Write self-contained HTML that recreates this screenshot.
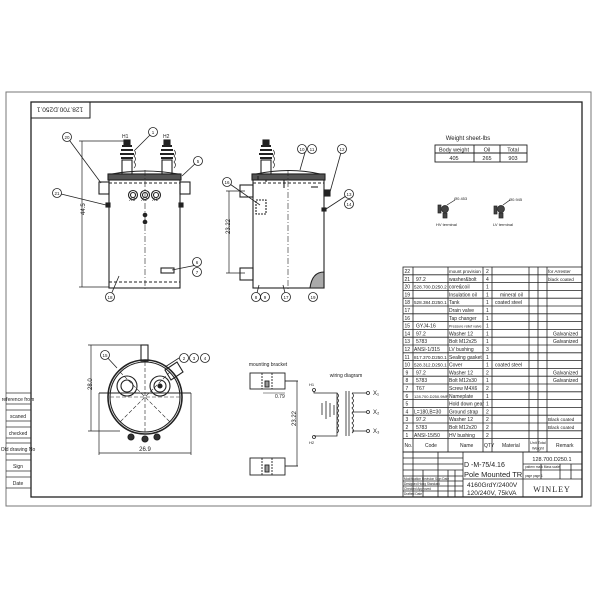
<!DOCTYPE html>
<html><head><meta charset="utf-8"><style>
html,body{margin:0;padding:0;background:#fff;}
svg{display:block;font-family:"Liberation Sans Narrow","Liberation Sans",sans-serif;}
</style></head><body>
<svg width="600" height="600" viewBox="0 0 600 600" xmlns="http://www.w3.org/2000/svg">
<g fill="none" stroke="#222" stroke-width="1">
<rect x="6" y="92" width="585" height="414" stroke="#777"/>
<rect x="31" y="102" width="551" height="395" stroke-width="1.3"/>
<rect x="31" y="102" width="59" height="16"/>
</g>
<text x="60" y="112.5" font-size="6.5" text-anchor="middle" transform="rotate(180 60 110)" fill="#222">128.700.D250.1</text>

<!-- left side boxes -->
<g stroke="#333" fill="none" stroke-width="0.8">
<line x1="6" y1="393" x2="31" y2="393"/><line x1="6" y1="404" x2="31" y2="404"/>
<line x1="6" y1="410" x2="31" y2="410"/><line x1="6" y1="421" x2="31" y2="421"/>
<line x1="6" y1="427" x2="31" y2="427"/><line x1="6" y1="438" x2="31" y2="438"/>
<line x1="6" y1="443" x2="31" y2="443"/><line x1="6" y1="454" x2="31" y2="454"/>
<line x1="6" y1="460" x2="31" y2="460"/><line x1="6" y1="471" x2="31" y2="471"/>
<line x1="6" y1="477" x2="31" y2="477"/><line x1="6" y1="488" x2="31" y2="488"/>
</g>
<g font-size="5" fill="#222" text-anchor="middle">
<text x="18" y="401">reference from</text><text x="18" y="418">scaned</text><text x="18" y="435">checked</text>
<text x="18" y="451">Old drawing No</text><text x="18" y="468">Sign</text><text x="18" y="485">Date</text>
</g>

<!-- FRONT VIEW -->
<g stroke="#222" fill="none" stroke-width="1.1">
<rect x="109" y="174" width="71" height="114"/>
<rect x="108" y="174" width="73" height="6" fill="#555"/>
<path d="M112 174 Q145 168 178 174"/>
<line x1="109" y1="282" x2="180" y2="282" stroke-dasharray="3,2"/>
<line x1="109" y1="183" x2="180" y2="183" stroke-dasharray="3,2"/>
<line x1="145" y1="170" x2="145" y2="290" stroke-dasharray="6,2,1,2" stroke-width="0.6"/>
<rect x="122" y="160" width="10" height="14"/><rect x="162" y="160" width="10" height="14"/>
<path d="M121 158h12M120 154h14M121 150h12M122 146h10" stroke-width="2"/>
<path d="M161 158h12M160 154h14M161 150h12M162 146h10" stroke-width="2"/>
<rect x="124" y="140" width="6" height="5" fill="#222"/><rect x="164" y="140" width="6" height="5" fill="#222"/>
<path d="M134 150 q3 3 0 6 q3 3 0 6 q3 3 0 6" stroke-width="0.7"/>
<path d="M174 150 q3 3 0 6 q3 3 0 6 q3 3 0 6" stroke-width="0.7"/>
<rect x="99" y="182" width="10" height="12"/><rect x="180" y="182" width="10" height="12"/>
<rect x="106" y="203" width="4" height="4" fill="#222"/><rect x="179" y="203" width="4" height="4" fill="#222"/>
<circle cx="133" cy="195" r="4.5"/><circle cx="133" cy="195" r="2.5"/>
<circle cx="145" cy="195" r="4.5"/><circle cx="145" cy="195" r="2.5"/>
<circle cx="156" cy="195" r="4.5"/><circle cx="156" cy="195" r="2.5"/>
<circle cx="145" cy="215" r="1.8" fill="#222"/><circle cx="145" cy="222" r="1.8" fill="#222"/>
<rect x="161" y="268" width="13" height="5"/>
<line x1="82" y1="141" x2="82" y2="287" stroke-width="0.7"/>
<line x1="79" y1="141" x2="124" y2="141" stroke-width="0.7"/>
<line x1="79" y1="287" x2="109" y2="287" stroke-width="0.7"/>
</g>
<g font-size="5" fill="#222">
<text x="129" y="201">X3</text><text x="141" y="201">X2</text><text x="152" y="201">X1</text>
<text x="122" y="138">H1</text><text x="163" y="138">H2</text>
<text x="80" y="220" transform="rotate(-90 80 215)" font-size="6">44.5</text>
</g>
<g stroke="#222" fill="#fff" stroke-width="0.8">
<line x1="67" y1="137" x2="101" y2="183"/><line x1="153" y1="132" x2="135" y2="150"/>
<line x1="198" y1="161" x2="182" y2="176"/><line x1="57" y1="193" x2="106" y2="205"/>
<line x1="197" y1="265" x2="172" y2="270"/><line x1="110" y1="297" x2="119" y2="276"/>
<circle cx="67" cy="137" r="4.5"/><circle cx="153" cy="132" r="4.5"/><circle cx="198" cy="161" r="4.5"/>
<circle cx="57" cy="193" r="4.5"/><circle cx="197" cy="262" r="4.5"/><circle cx="197" cy="272" r="4.5"/>
<circle cx="110" cy="297" r="4.5"/>
</g>
<g font-size="4.5" fill="#222" text-anchor="middle">
<text x="67" y="139">20</text><text x="153" y="134">1</text><text x="198" y="163">5</text><text x="57" y="195">21</text>
<text x="197" y="264">6</text><text x="197" y="274">7</text><text x="110" y="299">18</text>
</g>

<!-- SIDE VIEW -->
<g stroke="#222" fill="none" stroke-width="1.1">
<rect x="253" y="174" width="71" height="114"/>
<rect x="252" y="174" width="73" height="6" fill="#555"/>
<path d="M256 174 Q290 167 320 174"/>
<line x1="253" y1="183" x2="324" y2="183" stroke-dasharray="3,2"/>
<line x1="288" y1="170" x2="288" y2="290" stroke-dasharray="6,2,1,2" stroke-width="0.6"/>
<rect x="261" y="160" width="10" height="14"/>
<path d="M260 158h12M259 154h14M260 150h12M261 146h10" stroke-width="2"/>
<rect x="263" y="140" width="6" height="5" fill="#222"/>
<path d="M273 150 q3 3 0 6 q3 3 0 6 q3 3 0 6" stroke-width="0.7"/>
<rect x="240" y="185" width="13" height="12"/><rect x="240" y="268" width="13" height="12"/>
<rect x="256" y="200" width="10" height="14" stroke-dasharray="2,1"/>
<line x1="311" y1="187" x2="318" y2="187"/>
<rect x="324" y="190" width="6" height="6" fill="#222"/><rect x="322" y="208" width="4" height="3" fill="#222"/>
<path d="M310 288 Q312 272 324 272 V288Z" fill="#aaa"/>
<line x1="229" y1="191" x2="229" y2="273" stroke-width="0.7"/>
<line x1="226" y1="191" x2="245" y2="191" stroke-width="0.7"/>
<line x1="226" y1="273" x2="245" y2="273" stroke-width="0.7"/>
<path d="M258 176v4M266 180v2M284 180v8" />
</g>
<text x="224" y="236" font-size="6" fill="#222" transform="rotate(-90 226 232)">23.22</text>
<g stroke="#222" fill="#fff" stroke-width="0.8">
<line x1="306" y1="149" x2="300" y2="170"/><line x1="342" y1="149" x2="330" y2="192"/>
<line x1="227" y1="182" x2="260" y2="205"/><line x1="349" y1="194" x2="326" y2="209"/>
<line x1="256" y1="297" x2="259" y2="285"/><line x1="286" y1="297" x2="283" y2="285"/>
<circle cx="302" cy="149" r="4.5"/><circle cx="312" cy="149" r="4.5"/><circle cx="342" cy="149" r="4.5"/>
<circle cx="227" cy="182" r="4.5"/><circle cx="349" cy="194" r="4.5"/><circle cx="349" cy="204" r="4.5"/>
<circle cx="256" cy="297" r="4.5"/><circle cx="265" cy="297" r="4.5"/><circle cx="286" cy="297" r="4.5"/><circle cx="313" cy="297" r="4.5"/>
</g>
<g font-size="4.5" fill="#222" text-anchor="middle">
<text x="302" y="151">10</text><text x="312" y="151">11</text><text x="342" y="151">12</text><text x="227" y="184">16</text>
<text x="349" y="196">13</text><text x="349" y="206">14</text><text x="256" y="299">8</text><text x="265" y="299">9</text>
<text x="286" y="299">17</text><text x="313" y="299">19</text>
</g>

<!-- TOP VIEW -->
<g stroke="#222" fill="none" stroke-width="1.1">
<circle cx="145" cy="397" r="37" stroke-width="1.6"/>
<circle cx="145" cy="397" r="35"/>
<rect x="141" y="345" width="7" height="16"/>
<circle cx="127" cy="386" r="10"/><circle cx="127" cy="386" r="6"/>
<circle cx="160" cy="386" r="10"/><circle cx="160" cy="386" r="6"/><circle cx="160" cy="386" r="2" fill="#222"/>
<path d="M165 370 l12 -8 l6 10 l-12 8z"/>
<line x1="99" y1="393" x2="191" y2="393"/>
<g stroke-dasharray="4,2" stroke-width="0.6">
<line x1="110" y1="397" x2="180" y2="397"/><line x1="145" y1="362" x2="145" y2="432"/>
<line x1="120" y1="372" x2="170" y2="422"/><line x1="170" y1="372" x2="120" y2="422"/>
</g>
<circle cx="131" cy="437" r="3" fill="#333"/><circle cx="145" cy="439" r="3" fill="#333"/><circle cx="157" cy="437" r="3" fill="#333"/>
<line x1="99" y1="393" x2="99" y2="455" stroke-width="0.7"/><line x1="191" y1="393" x2="191" y2="455" stroke-width="0.7"/>
<line x1="99" y1="453" x2="191" y2="453" stroke-width="0.7"/>
<line x1="91" y1="345" x2="91" y2="431" stroke-width="0.7"/>
<line x1="88" y1="345" x2="141" y2="345" stroke-width="0.7"/><line x1="88" y1="431" x2="120" y2="431" stroke-width="0.7"/>
</g>
<text x="145" y="451" font-size="6" fill="#222" text-anchor="middle">26.9</text>
<text x="86" y="392" font-size="6" fill="#222" transform="rotate(-90 88 388)">28.0</text>
<g stroke="#222" fill="#fff" stroke-width="0.8">
<line x1="105" y1="355" x2="117" y2="368"/><line x1="179" y1="358" x2="165" y2="367"/>
<circle cx="105" cy="355" r="4.5"/><circle cx="184" cy="358" r="4.5"/><circle cx="194" cy="358" r="4.5"/><circle cx="205" cy="358" r="4.5"/>
</g>
<g font-size="4.5" fill="#222" text-anchor="middle">
<text x="105" y="357">15</text><text x="184" y="360">2</text><text x="194" y="360">3</text><text x="205" y="360">4</text>
</g>

<!-- MOUNTING BRACKET -->
<text x="268" y="366" font-size="5" fill="#222" text-anchor="middle">mounting bracket</text>
<g stroke="#222" fill="none" stroke-width="0.9">
<rect x="250" y="373" width="35" height="16"/><rect x="250" y="458" width="35" height="17"/>
<path d="M262 373v16M272 373v16M262 458v17M272 458v17" stroke-dasharray="2,1"/>
<rect x="265" y="381" width="4" height="6" fill="#999"/><rect x="265" y="465" width="4" height="7" fill="#999"/>
<line x1="285" y1="381" x2="298" y2="381"/><line x1="285" y1="466" x2="298" y2="466"/>
<line x1="297" y1="381" x2="297" y2="466" stroke-width="0.7"/>
<line x1="263" y1="393" x2="285" y2="393" stroke-width="0.6"/>
</g>
<text x="275" y="398" font-size="5" fill="#222">0.79</text>
<text x="290" y="428" font-size="6" fill="#222" transform="rotate(-90 292 424)">23.22</text>

<!-- WIRING -->
<text x="346" y="377" font-size="5" fill="#222" text-anchor="middle">wiring diagram</text>
<g stroke="#222" fill="none" stroke-width="0.8">
<circle cx="314" cy="390" r="1.5"/><circle cx="314" cy="437" r="1.5"/>
<path d="M314 391 V393 H337 V436 H314"/>
<path d="M337 393 q3 3 0 5 q3 3 0 5 q3 3 0 5 q3 3 0 5 q3 3 0 5 q3 3 0 5 q3 3 0 5 q3 3 0 5"/>
<path d="M322 403 v12 M326 401 v18 M330 403 v14 M334 405 v10"/>
<line x1="346" y1="391" x2="346" y2="436"/><line x1="349" y1="391" x2="349" y2="436"/>
<path d="M352 393 q3 3 0 5 q3 3 0 5 q3 3 0 5 q3 3 0 5 q3 3 0 5 q3 3 0 5 q3 3 0 5 q3 3 0 5"/>
<path d="M352 393 H366 M352 412 H366 M352 431 H366"/>
<circle cx="368" cy="393" r="1.5"/><circle cx="368" cy="412" r="1.5"/><circle cx="368" cy="431" r="1.5"/>
</g>
<g font-size="6" fill="#222"><text x="373" y="395">X₁</text><text x="373" y="414">X₂</text><text x="373" y="433">X₃</text>
<text x="309" y="386" font-size="4">H1</text><text x="309" y="444" font-size="4">H2</text></g>

<!-- WEIGHT SHEET -->
<text x="468" y="140" font-size="6" fill="#222" text-anchor="middle">Weight sheet-lbs</text>
<g stroke="#222" fill="none" stroke-width="0.9">
<rect x="435" y="145" width="92" height="17"/><line x1="435" y1="153" x2="527" y2="153"/>
<line x1="474" y1="145" x2="474" y2="162"/><line x1="500" y1="145" x2="500" y2="162"/>
</g>
<g font-size="5.5" fill="#222" text-anchor="middle">
<text x="454" y="151.5">Body weight</text><text x="487" y="151.5">Oil</text><text x="513" y="151.5">Total</text>
<text x="454" y="160">405</text><text x="487" y="160">265</text><text x="513" y="160">903</text>
</g>
<g stroke="#222" fill="#444" stroke-width="0.7">
<rect x="438" y="205" width="3" height="8"/><circle cx="445" cy="209" r="3.5"/><rect x="443" y="213" width="4" height="5"/>
<rect x="494" y="206" width="3" height="8"/><circle cx="501" cy="209" r="3.5"/><rect x="499" y="213" width="4" height="5"/>
<line x1="447" y1="205" x2="455" y2="200" fill="none"/><line x1="503" y1="205" x2="510" y2="200" fill="none"/>
</g>
<g font-size="4" fill="#222"><text x="454" y="200">Ø0.453</text><text x="509" y="201">Ø0.945</text>
<text x="436" y="226">HV terminal</text><text x="493" y="226">LV terminal</text></g>

<!-- PARTS TABLE -->
<g stroke="#222" fill="none" stroke-width="0.8">
<rect x="403" y="267" width="179" height="185"/>
<line x1="413" y1="267" x2="413" y2="452"/><line x1="448" y1="267" x2="448" y2="452"/>
<line x1="483" y1="267" x2="483" y2="452"/><line x1="492" y1="267" x2="492" y2="452"/>
<line x1="529" y1="267" x2="529" y2="452"/><line x1="538" y1="267" x2="538" y2="452"/>
<line x1="547" y1="267" x2="547" y2="452"/>
<path d="M403 274.8h179M403 282.6h179M403 290.4h179M403 298.2h179M403 306h179M403 313.8h179M403 321.6h179M403 329.4h179M403 337.2h179M403 345h179M403 352.8h179M403 360.6h179M403 368.4h179M403 376.2h179M403 384h179M403 391.8h179M403 399.6h179M403 407.4h179M403 415.2h179M403 423h179M403 430.8h179M403 438.6h179"/>
<rect x="403" y="452" width="179" height="45"/>
<line x1="463" y1="452" x2="463" y2="497"/><line x1="523" y1="452" x2="523" y2="497"/>
<line x1="463" y1="479" x2="523" y2="479"/>
<path d="M403 458h60M403 464h60M403 470h60M403 476h60M403 481h60M403 486h60M403 491h60"/>
<path d="M413 452v45M423 470v27M438 452v45M448 470v27M455 470v27"/>
<path d="M523 464h59M523 470h59M523 479h59M541 464v15M560 464v15M571 464v15"/>
</g>
<g font-size="5" fill="#222">
<text x="404.5" y="273">22</text><text x="449" y="273" font-size="4.5">mount provision</text><text x="486" y="273">2</text><text x="548" y="273" font-size="4.6">for Arrester</text>
<text x="404.5" y="280.8">21</text><text x="416" y="280.8">97.2</text><text x="449" y="280.8">washer&amp;bolt</text><text x="486" y="280.8">4</text><text x="548" y="280.8" font-size="4.6">black coated</text>
<text x="404.5" y="288.6">20</text><text x="414" y="288.6" font-size="4.6">528.700.D250.2</text><text x="449" y="288.6">core&amp;coil</text><text x="486" y="288.6">1</text>
<text x="404.5" y="296.4">19</text><text x="449" y="296.4">Insulation oil</text><text x="486" y="296.4">1</text><text x="500" y="296.4">mineral oil</text>
<text x="404.5" y="304.2">18</text><text x="414" y="304.2" font-size="4.6">528.384.D250.1</text><text x="449" y="304.2">Tank</text><text x="486" y="304.2">1</text><text x="495" y="304.2">coated steel</text>
<text x="404.5" y="312">17</text><text x="449" y="312">Drain valve</text><text x="486" y="312">1</text>
<text x="404.5" y="319.8">16</text><text x="449" y="319.8">Tap changer</text><text x="486" y="319.8">1</text>
<text x="404.5" y="327.6">15</text><text x="416" y="327.6">GYJ4-16</text><text x="449" y="327.6" font-size="3.6">Pressure relief valve</text><text x="486" y="327.6">1</text>
<text x="404.5" y="335.4">14</text><text x="416" y="335.4">97.2</text><text x="449" y="335.4">Washer 12</text><text x="486" y="335.4">1</text><text x="553" y="335.4">Galvanized</text>
<text x="404.5" y="343.2">13</text><text x="416" y="343.2">5783</text><text x="449" y="343.2">Bolt M12x25</text><text x="486" y="343.2">1</text><text x="553" y="343.2">Galvanized</text>
<text x="404.5" y="351">12</text><text x="414" y="351">ANSI-1/315</text><text x="449" y="351">LV bushing</text><text x="486" y="351">3</text>
<text x="404.5" y="358.8">11</text><text x="414" y="358.8" font-size="4.6">817.370.D250.1</text><text x="449" y="358.8">Sealing gasket</text><text x="486" y="358.8">1</text>
<text x="404.5" y="366.6">10</text><text x="414" y="366.6" font-size="4.6">528.312.D250.1</text><text x="449" y="366.6">Cover</text><text x="486" y="366.6">1</text><text x="495" y="366.6">coated steel</text>
<text x="405.5" y="374.4">9</text><text x="416" y="374.4">97.2</text><text x="449" y="374.4">Washer 12</text><text x="486" y="374.4">2</text><text x="553" y="374.4">Galvanized</text>
<text x="405.5" y="382.2">8</text><text x="416" y="382.2">5783</text><text x="449" y="382.2">Bolt M12x30</text><text x="486" y="382.2">1</text><text x="553" y="382.2">Galvanized</text>
<text x="405.5" y="390">7</text><text x="416" y="390">T67</text><text x="449" y="390">Screw M4X6</text><text x="486" y="390">2</text>
<text x="405.5" y="397.8">6</text><text x="414" y="397.8" font-size="4">128.700.D250.9MP</text><text x="449" y="397.8">Nameplate</text><text x="486" y="397.8">1</text>
<text x="405.5" y="405.6">5</text><text x="449" y="405.6">Hold down gear</text><text x="486" y="405.6">1</text>
<text x="405.5" y="413.4">4</text><text x="414" y="413.4">L=180,B=30</text><text x="449" y="413.4">Ground strap</text><text x="486" y="413.4">2</text>
<text x="405.5" y="421.2">3</text><text x="416" y="421.2">97.2</text><text x="449" y="421.2">Washer 12</text><text x="486" y="421.2">2</text><text x="548" y="421.2" font-size="4.6">Black coated</text>
<text x="405.5" y="429">2</text><text x="416" y="429">5783</text><text x="449" y="429">Bolt M12x20</text><text x="486" y="429">2</text><text x="548" y="429" font-size="4.6">Black coated</text>
<text x="405.5" y="436.8">1</text><text x="414" y="436.8">ANSI-15/50</text><text x="449" y="436.8">HV bushing</text><text x="486" y="436.8">2</text>
<text x="404.5" y="447">No.</text><text x="425" y="447">Code</text><text x="460" y="447">Name</text><text x="484" y="447">QTY</text><text x="502" y="447">Material</text>
<text x="530" y="444" font-size="3.8">Unit Total</text><text x="532" y="449.5" font-size="3.8">Weight</text><text x="556" y="447">Remark</text>
</g>
<g fill="#222">
<text x="464" y="467" font-size="7">D -M-75/4.16</text>
<text x="464" y="477" font-size="7.5">Pole Mounted TR</text>
<text x="467" y="487" font-size="6.5">4160GrdY/2400V</text>
<text x="467" y="495" font-size="6.5">120/240V, 75kVA</text>
<text x="552" y="461" font-size="5.5" text-anchor="middle">128.700.D250.1</text>
<text x="552" y="492" font-size="8" text-anchor="middle" font-family="Liberation Serif,serif" letter-spacing="1">WINLEY</text>
<text x="404" y="480" font-size="3.2">Modification Revision Sign Date</text>
<text x="404" y="485" font-size="3.2">Designed Hong Standard</text>
<text x="404" y="490" font-size="3.2">Checked   Approved</text>
<text x="404" y="495" font-size="3.2">Drafted   Date</text>
<text x="525" y="468" font-size="3.2">pattern mark   Mass  scale</text>
<text x="525" y="477" font-size="3.2">page          page 1</text>
</g>
</svg>
</body></html>
